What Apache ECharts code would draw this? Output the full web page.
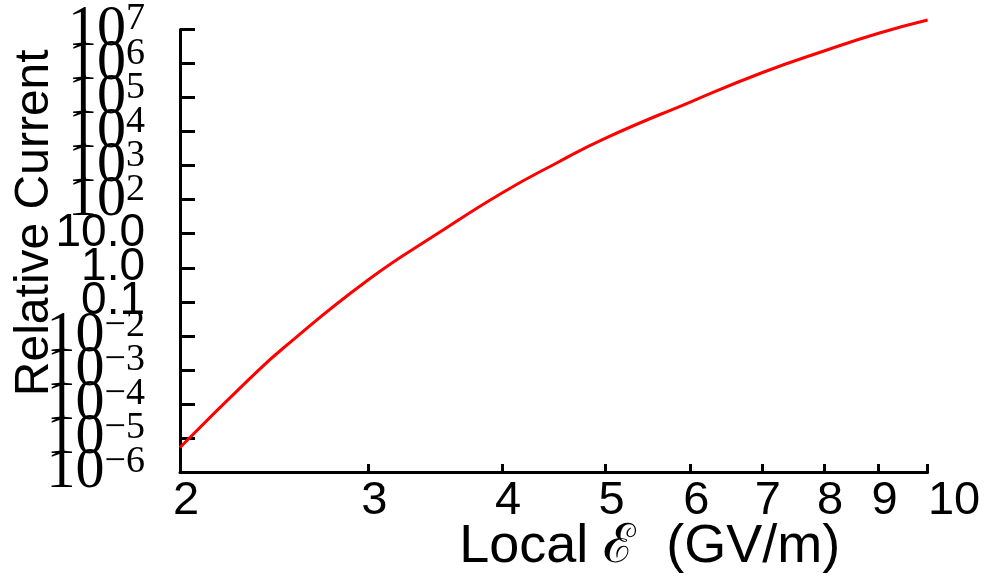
<!DOCTYPE html>
<html>
<head>
<meta charset="utf-8">
<script src="https://cdn.jsdelivr.net/npm/echarts@6/dist/echarts.min.js"></script>
<style>
  html, body { margin: 0; padding: 0; background: #ffffff; }
  #chart { width: 984px; height: 579px; }
</style>
</head>
<body>
<div id="chart"></div>
<script>
// Local field (GV/m) and the relative emission current read at each field
const fieldGVm = [2, 2.325, 2.5, 3, 3.5, 4, 4.5, 5, 6, 7, 8, 9, 10];
const relativeCurrent = [5.25e-6, 5.6e-4, 4.47e-3, 0.447, 11.2, 158, 1.20e3, 6.46e3, 7.41e4, 5.37e5, 2.34e6, 7.76e6, 1.9e7];

// Tick positions
const xTickValues = [2, 3, 4, 5, 6, 7, 8, 9, 10];
const yTickValues = [1e-6, 1e-5, 1e-4, 1e-3, 1e-2, 1e-1, 1, 10, 1e2, 1e3, 1e4, 1e5, 1e6, 1e7];

// Axis range; the blank end labels just outside the decades keep the
// automatic min/max label thinning away from the real tick labels
const yMin = 0.999e-6;
const yMax = 1.001e7;
const yLabelValues = [yMin].concat(yTickValues, [yMax]);

const points = fieldGVm.map((e, i) => [e, relativeCurrent[i]]);

function yLabel(v) {
  if (v < 1e-6 * 0.9999 || v > 1e7 * 1.0001) return ' ';
  const p = Math.round(Math.log10(v));
  if (p === 1) return '{p|10.0}';
  if (p === 0) return '{p|1.0}';
  if (p === -1) return '{p|0.1}';
  const exp = p < 0 ? '\u2212' + (-p) : String(p);
  return '{b|10}{s|' + exp + '}';
}

const chart = echarts.init(document.getElementById('chart'), null, { renderer: 'canvas' });
chart.setOption({
  animation: false,
  backgroundColor: '#ffffff',
  grid: {
    left: 180, right: 56.4, top: 29.5, bottom: 107,
    containLabel: false,
    outerBoundsMode: 'none'
  },
  xAxis: {
    type: 'log',
    logBase: 10,
    min: 2,
    max: 10,
    name: 'Local \u2130  (GV/m)',
    nameLocation: 'middle',
    nameGap: 48,
    nameMoveOverlap: false,
    nameTextStyle: {
      fontFamily: 'Liberation Sans',
      fontSize: 54,
      color: '#000',
      padding: [0, 0, 0, 192]
    },
    axisLine: { show: true, lineStyle: { color: '#000', width: 3 } },
    axisTick: {
      show: true, inside: true, length: 8,
      customValues: xTickValues,
      lineStyle: { color: '#000', width: 3 }
    },
    axisLabel: {
      show: true,
      showMinLabel: true,
      showMaxLabel: true,
      margin: 6,
      customValues: xTickValues,
      formatter: v => (Math.abs(v - 10) < 1e-9 ? '{e|10}' : '{n|' + Math.round(v) + '}'),
      rich: {
        n: { fontFamily: 'Liberation Sans', fontSize: 47, color: '#000', padding: [0, 0, 0, 12] },
        e: { fontFamily: 'Liberation Sans', fontSize: 47, color: '#000', padding: [0, 0, 0, 53] }
      }
    },
    splitLine: { show: false },
    minorTick: { show: false },
    minorSplitLine: { show: false }
  },
  yAxis: {
    type: 'log',
    logBase: 10,
    min: yMin,
    max: yMax,
    name: 'Relative Current',
    nameLocation: 'middle',
    nameRotate: 90,
    nameGap: 121,
    nameMoveOverlap: false,
    nameTextStyle: {
      fontFamily: 'Liberation Sans',
      fontSize: 48,
      color: '#000',
      padding: [0, 0, 0, 56]
    },
    axisLine: { show: true, lineStyle: { color: '#000', width: 3 } },
    axisTick: {
      show: true, inside: true, length: 15,
      customValues: yTickValues,
      lineStyle: { color: '#000', width: 3 }
    },
    axisLabel: {
      show: true,
      showMinLabel: false,
      showMaxLabel: false,
      margin: 35,
      customValues: yLabelValues,
      formatter: yLabel,
      rich: {
        b: { fontFamily: 'Liberation Serif', fontSize: 58, lineHeight: 58, color: '#000',
             verticalAlign: 'bottom', padding: [9, 0, 0, 0] },
        s: { fontFamily: 'Liberation Serif', fontSize: 38, lineHeight: 48, color: '#000',
             verticalAlign: 'top' },
        p: { fontFamily: 'Liberation Sans', fontSize: 46, lineHeight: 46, color: '#000' }
      }
    },
    splitLine: { show: false },
    minorTick: { show: false },
    minorSplitLine: { show: false }
  },
  series: [{
    type: 'line',
    data: points,
    smooth: true,
    showSymbol: false,
    clip: false,
    lineStyle: { color: '#ff0000', width: 3 },
    itemStyle: { color: '#ff0000' }
  }]
});
</script>
</body>
</html>
